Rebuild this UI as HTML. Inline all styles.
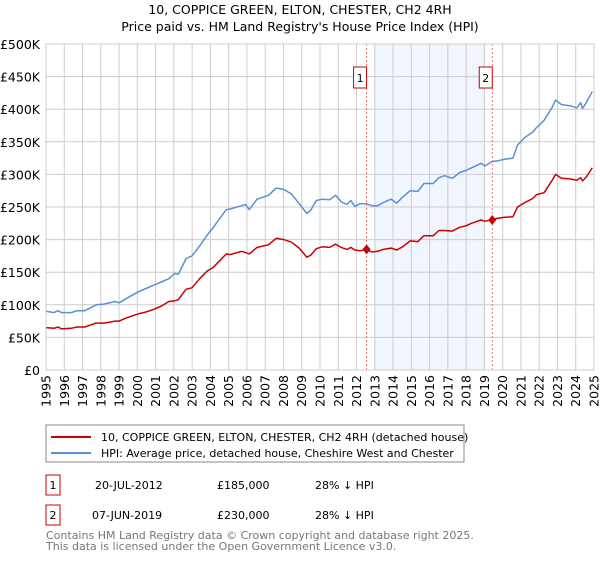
<!DOCTYPE html>
<html><head><meta charset="utf-8"><style>
body{margin:0;background:#fff;font-family:"Liberation Sans","DejaVu Sans",sans-serif;}
svg text{font-family:"DejaVu Sans","Liberation Sans",sans-serif;}
</style></head><body>
<svg id="chart" width="600" height="560" xmlns="http://www.w3.org/2000/svg">
<text x="300" y="14" text-anchor="middle" font-size="12.5">10, COPPICE GREEN, ELTON, CHESTER, CH2 4RH</text>
<text x="300" y="31" text-anchor="middle" font-size="12.5">Price paid vs. HM Land Registry's House Price Index (HPI)</text>
<g id="plot"></g>
<g>
<rect x="46" y="425" width="418" height="37" fill="#fff" stroke="#888"/>
<line x1="51" y1="437" x2="91" y2="437" stroke="#cc0000" stroke-width="2"/>
<text x="101" y="441" font-size="11">10, COPPICE GREEN, ELTON, CHESTER, CH2 4RH (detached house)</text>
<line x1="51" y1="453" x2="91" y2="453" stroke="#5b8fd6" stroke-width="2"/>
<text x="101" y="457" font-size="11">HPI: Average price, detached house, Cheshire West and Chester</text>
</g>
<g font-size="11">
<rect x="46" y="475" width="14" height="20" fill="#fff" stroke="#cc0000"/>
<text x="53" y="489" text-anchor="middle">1</text>
<text x="95" y="489">20-JUL-2012</text><text x="217" y="489">£185,000</text><text x="315" y="489">28% ↓ HPI</text>
<rect x="46" y="505" width="14" height="20" fill="#fff" stroke="#cc0000"/>
<text x="53" y="519" text-anchor="middle">2</text>
<text x="92" y="519">07-JUN-2019</text><text x="217" y="519">£230,000</text><text x="315" y="519">28% ↓ HPI</text>
</g>
<text x="46" y="539" font-size="11" fill="#777">Contains HM Land Registry data © Crown copyright and database right 2025.</text>
<text x="46" y="550" font-size="11" fill="#777">This data is licensed under the Open Government Licence v3.0.</text>
</svg>
<script>
const years=[1995.00,1995.44,1995.65,1995.86,1996.38,1996.70,1997.12,1997.75,1998.17,1998.79,1999.00,1999.42,2000.05,2000.47,2000.89,2001.31,2001.73,2002.04,2002.25,2002.67,2002.99,2003.41,2003.83,2004.14,2004.45,2004.87,2005.08,2005.71,2005.92,2006.13,2006.55,2007.18,2007.60,2008.02,2008.44,2008.86,2009.28,2009.49,2009.80,2010.12,2010.53,2010.85,2011.16,2011.48,2011.69,2011.90,2012.21,2012.53,2012.84,2013.16,2013.47,2013.89,2014.20,2014.52,2014.94,2015.36,2015.69,2016.20,2016.51,2016.82,2017.24,2017.66,2017.98,2018.29,2018.82,2019.03,2019.45,2019.76,2020.07,2020.56,2020.81,2021.23,2021.65,2021.86,2022.27,2022.69,2022.90,2023.22,2023.74,2024.06,2024.27,2024.37,2024.58,2024.90];
const hpi=[90,88,91,88,88,91,91,100,101,105,103,110,120,125,130,135,140,148,147,171,175,190,207,218,230,246,247,252,254,246,262,268,279,277,270,255,240,245,260,262,261,268,258,254,260,251,255,255,252,252,257,262,256,265,275,274,286,286,295,298,294,303,306,310,317,313,320,321,323,325,345,357,365,372,383,402,414,407,405,402,410,401,410,427];
const price=[65,64,66,63,64,66,66,72,72,75,75,80,86,89,93,98,105,106,108,124,126,140,152,157,166,178,177,182,180,178,188,192,202,200,196,187,173,176,186,189,188,193,188,185,188,184,183,185,181,182,185,187,184,189,198,197,206,206,214,214,213,219,221,225,230,228,231,233,234,235,250,257,263,269,272,290,300,294,293,291,295,290,296,310];
const yTicks=[0,50,100,150,200,250,300,350,400,450,500];
const yLabels=["£0","£50K","£100K","£150K","£200K","£250K","£300K","£350K","£400K","£450K","£500K"];
const xYears=[1995,1996,1997,1998,1999,2000,2001,2002,2003,2004,2005,2006,2007,2008,2009,2010,2011,2012,2013,2014,2015,2016,2017,2018,2019,2020,2021,2022,2023,2024,2025];
const saleYears=[2012.55,2019.43];
const saleValues=[185,230];
const saleLabels=["1","2"];
const shadeRange=[2013.0,2019.0];
const NS="http://www.w3.org/2000/svg";
const L=46,R=594,T=44,B=370;
const X=y=>L+(y-1995)/30*(R-L);
const Y=v=>B-v/500*(B-T);
const g=document.getElementById('plot');
function mk(t,a){const e=document.createElementNS(NS,t);for(const k in a)e.setAttribute(k,a[k]);g.appendChild(e);return e;}
let s=mk('rect',{x:X(shadeRange[0]),y:T,width:X(shadeRange[1])-X(shadeRange[0]),height:B-T,fill:'#eef3fc',opacity:0.8});


yTicks.forEach((v,i)=>{
 const l=mk('line',{x1:L,x2:R,y1:Y(v),y2:Y(v),stroke:'#cccccc'});
 
 
 const t=mk('text',{x:L-6,y:Y(v)+5,'text-anchor':'end','font-size':'12.5'});
 t.textContent=yLabels[i];
 
 
});
xYears.forEach(yr=>{
 const l=mk('line',{x1:X(yr),x2:X(yr),y1:T,y2:B,stroke:'#cccccc'});
 
 
 const t=mk('text',{x:0,y:0,'text-anchor':'end','font-size':'12.5',transform:`translate(${X(yr)+4.5},${B+5}) rotate(-90)`});
 t.textContent=yr;
 
 
});
function path(arr,color,name){
 const d=arr.map((v,i)=>(i?'L':'M')+X(years[i]).toFixed(1)+','+Y(v).toFixed(1)).join('');
 const p=mk('path',{d:d,fill:'none',stroke:color,'stroke-width':1.5,'stroke-linejoin':'round'});
 
 
}
path(hpi,'#5b8fd6','hpi-line');
path(price,'#cc0000','price-paid-line');
saleYears.forEach((yr,i)=>{
 const x=X(yr);
 const l=mk('line',{x1:x,x2:x,y1:T,y2:B,stroke:'#ee5555','stroke-dasharray':'2,2','stroke-width':0.8});
 
 
 const y=Y(saleValues[i]);
 const dm=mk('path',{d:`M${x},${y-5}L${x+4},${y}L${x},${y+5}L${x-4},${y}Z`,fill:'#cc0000'});
 
 
 const b=mk('rect',{x:x-13,y:67,width:13,height:21,fill:'#fff',stroke:'#cc0000'});
 
 
 const t=mk('text',{x:x-6.5,y:82,'text-anchor':'middle','font-size':'11'});
 t.textContent=saleLabels[i];
 
 
});
const br=mk('rect',{x:L,y:T,width:R-L,height:B-T,fill:'none',stroke:'#cccccc'});


</script>
</body></html>
